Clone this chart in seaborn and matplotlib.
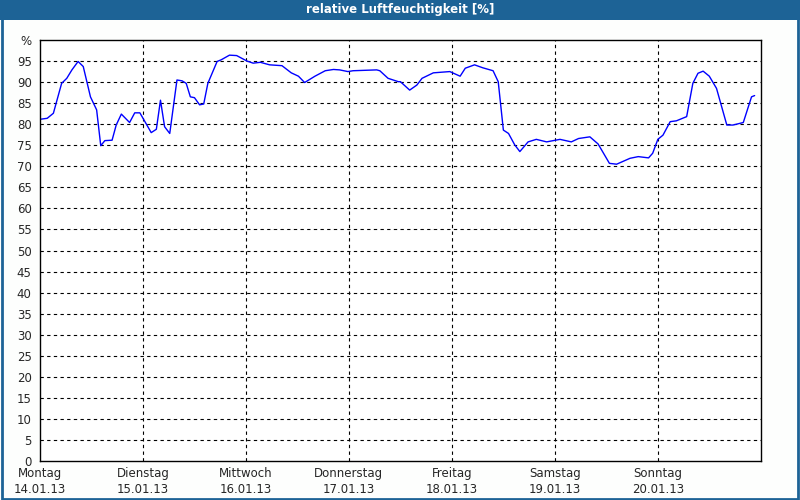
import matplotlib
matplotlib.use("Agg")
import matplotlib.pyplot as plt
import seaborn as sns
import pandas as pd
from matplotlib.patches import Rectangle

days = [0.01,0.07,0.13,0.21,0.26,0.31,0.37,0.42,0.49,0.55,0.59,0.63,0.70,0.74,0.79,0.87,0.92,0.97,
        1.08,1.13,1.17,1.21,1.26,1.33,1.38,1.42,1.46,1.50,1.55,1.59,1.63,1.72,1.76,1.84,1.91,
        2.01,2.07,2.14,2.23,2.35,2.44,2.51,2.57,2.67,2.77,2.85,2.91,2.99,3.04,3.27,3.30,3.38,3.48,
        3.50,3.59,3.66,3.71,3.82,3.98,4.08,4.13,4.22,4.30,4.40,4.45,4.50,4.55,4.61,4.66,4.74,4.82,4.92,
        5.05,5.16,5.23,5.34,5.42,5.53,5.60,5.73,5.81,5.91,5.95,6.00,6.05,6.12,6.18,6.28,6.34,6.39,
        6.44,6.50,6.57,6.67,6.73,6.83,6.91,6.94]
humidity = [81.2,81.4,82.6,89.7,90.9,92.9,94.9,93.7,86.5,83.4,74.9,76.1,76.2,79.8,82.4,80.4,82.7,82.7,
            78.0,78.8,85.7,79.4,77.8,90.5,90.3,89.7,86.5,86.3,84.6,84.8,89.7,94.9,95.3,96.4,96.3,
            95.0,94.5,94.7,94.1,93.9,92.2,91.4,89.9,91.4,92.7,93.0,92.9,92.5,92.7,92.9,92.7,90.9,90.1,
            90.1,88.1,89.3,90.9,92.2,92.5,91.4,93.3,94.1,93.4,92.7,90.1,78.6,77.8,75.1,73.5,75.8,76.4,75.8,
            76.4,75.8,76.6,77.0,75.3,70.7,70.5,71.9,72.3,72.0,73.1,76.4,77.4,80.6,80.8,81.8,89.7,92.1,
            92.6,91.4,88.5,79.8,79.8,80.4,86.5,86.8]
day_names = ["Montag","Dienstag","Mittwoch","Donnerstag","Freitag","Samstag","Sonntag"]
dates = ["14.01.13","15.01.13","16.01.13","17.01.13","18.01.13","19.01.13","20.01.13"]
yticks = list(range(0, 100, 5))

sns.set_style("white")
plt.rcParams['font.family'] = ['DejaVu Sans']

fig = plt.figure(figsize=(8, 5), dpi=100)
fig.patch.set_facecolor("#fdfefd")
ax = fig.add_axes([0.05, 0.078, 0.901, 0.842])
df = pd.DataFrame({"day": days, "hum": humidity})
sns.lineplot(data=df, x="day", y="hum", ax=ax, color="#0000ff", linewidth=1)

ax.set_xlim(0, 7)
ax.set_ylim(0, 100)
ax.set_yticks(yticks + [100])
ax.set_yticklabels([str(v) for v in yticks] + ["%"], fontsize=8.5)
ax.set_xticks(range(7))
ax.set_xticklabels([f"{n}\n{d}" for n, d in zip(day_names, dates)], fontsize=8.5, linespacing=1.3)
ax.set_xlabel(""); ax.set_ylabel("")
ax.tick_params(axis="both", length=3, color="black", pad=3)
ax.tick_params(axis="x", length=3, direction="out", pad=1.5)
for v in yticks[1:]:
    ax.axhline(v, color="black", linestyle=(0, (3, 3)), linewidth=0.8, zorder=0)
for d in range(1, 7):
    ax.axvline(d, color="black", linestyle=(0, (3, 3)), linewidth=0.8, zorder=0)
for s in ax.spines.values():
    s.set_color("black"); s.set_linewidth(1)
    s.set_visible(True)
ax.set_facecolor("white")

fig.patches.append(Rectangle((0, 0.96), 1, 0.04, transform=fig.transFigure,
                             facecolor="#1d6396", edgecolor="none", zorder=0))
fig.patches.append(Rectangle((0.002, 0.003), 0.996, 0.994, transform=fig.transFigure,
                             facecolor="none", edgecolor="#1d6396", linewidth=2, zorder=1))
fig.text(0.5, 0.98, "relative Luftfeuchtigkeit [%]", color="white", fontsize=8.5,
         fontweight="bold", ha="center", va="center")
fig.savefig("out.png", dpi=100, facecolor=fig.get_facecolor())
